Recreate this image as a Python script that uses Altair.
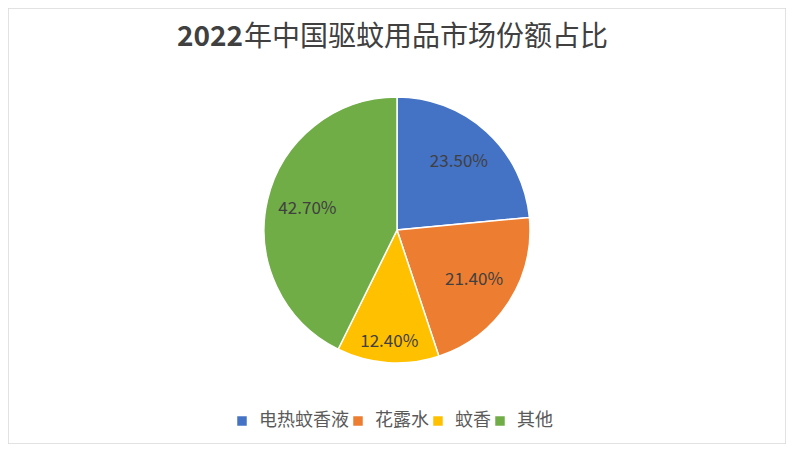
import altair as alt
import pandas as pd

# 2022年中国驱蚊用品市场份额
categories = ['电热蚊香液', '花露水', '蚊香', '其他']
shares = [0.235, 0.214, 0.124, 0.427]
colors = ['#4472C4', '#ED7D31', '#FFC000', '#70AD47']
title_year = '2022'
title_rest = '年中国驱蚊用品市场份额占比'

df = pd.DataFrame({'类别': categories, '份额': shares, '顺序': range(len(categories))})

font = 'Noto Sans CJK SC'
cx, cy = 389, 222  # 饼图中心

base = alt.Chart(df).encode(
    theta=alt.Theta('份额:Q', stack=True),
    order=alt.Order('顺序:Q'),
    x=alt.value(cx), y=alt.value(cy),
)

pie = base.mark_arc(outerRadius=133, stroke='white', strokeWidth=1.5).encode(
    color=alt.Color('类别:N', sort=categories,
                    scale=alt.Scale(domain=categories, range=colors),
                    legend=alt.Legend(title=None, orient='none', direction='horizontal',
                                      legendX=225, legendY=404,
                                      symbolType='square', symbolSize=90,
                                      symbolStrokeWidth=0,
                                      labelFont=font, labelFontSize=18,
                                      labelColor='#595959', columnPadding=0,
                                      labelOffset=8)),
)

# 数据标签（蚊香扇区较小，标签放得更靠外）
labels = base.mark_text(radius=92, font=font, fontSize=17, color='#404040').encode(
    text=alt.Text('份额:Q', format='.2%'),
    opacity=alt.condition(alt.datum['类别'] == '蚊香', alt.value(0), alt.value(1)),
)
labels_small = base.mark_text(radius=112, font=font, fontSize=17, color='#404040').encode(
    text=alt.Text('份额:Q', format='.2%'),
    opacity=alt.condition(alt.datum['类别'] == '蚊香', alt.value(1), alt.value(0)),
)

title_df = pd.DataFrame({'a': [title_year], 'b': [title_rest]})
title_a = alt.Chart(title_df).mark_text(
    font=font, fontSize=28, fontWeight='bold', color='#404040', align='right'
).encode(text='a:N', x=alt.value(235), y=alt.value(30))
title_b = alt.Chart(title_df).mark_text(
    font=font, fontSize=28, fontWeight='normal', color='#404040', align='left'
).encode(text='b:N', x=alt.value(236), y=alt.value(30))

chart = alt.layer(pie, labels, labels_small, title_a, title_b).properties(
    width=778, height=436, padding=0,
).configure_view(stroke='#D9D9D9', strokeWidth=1.5)

chart.save("out.html", embed_options={"renderer": "svg", "actions": False})
